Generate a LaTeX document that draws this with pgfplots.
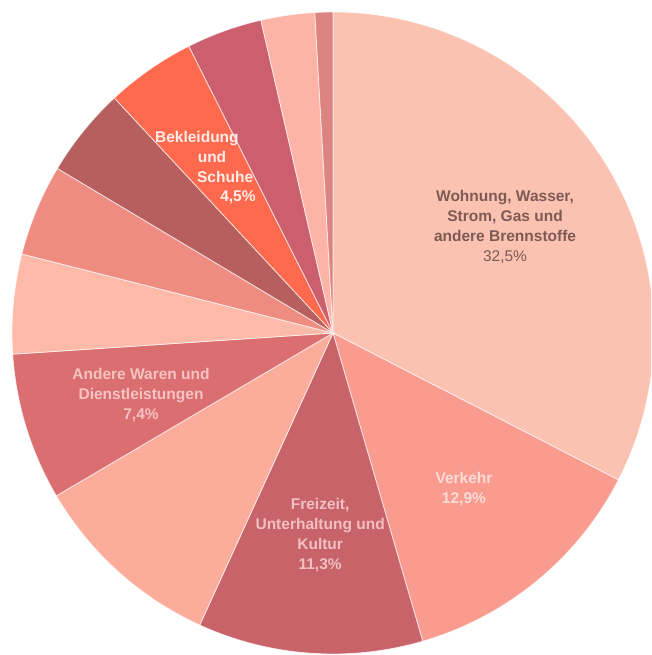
\documentclass[border=0pt]{standalone}
\usepackage{pgfplots}
\pgfplotsset{compat=1.18}
\usepackage{fontspec}
\setmainfont{Liberation Sans}
\definecolor{s1}{HTML}{FBC2B1}
\definecolor{s2}{HTML}{F99B8F}
\definecolor{s3}{HTML}{C8636A}
\definecolor{s4}{HTML}{FCAC9A}
\definecolor{s5}{HTML}{DA6E70}
\definecolor{s6}{HTML}{FDBAA8}
\definecolor{s7}{HTML}{EE8C82}
\definecolor{s8}{HTML}{B75F5E}
\definecolor{s9}{HTML}{FF6A4E}
\definecolor{s10}{HTML}{CC5F6E}
\definecolor{s11}{HTML}{FDB3A5}
\definecolor{s12}{HTML}{DC8482}
\definecolor{tdark}{HTML}{7E5A55}
\definecolor{tverk}{HTML}{FCDCD6}
\definecolor{tfrei}{HTML}{F2C0C3}
\definecolor{tand}{HTML}{F6C3C3}
\definecolor{tbek}{HTML}{FFEDEA}
\begin{document}
\begin{tikzpicture}
\clip (-333pt,-322pt) rectangle (318pt,333pt);
\begin{axis}[hide axis, scale only axis, width=642pt, height=642pt,
  xmin=-1, xmax=1, ymin=-1, ymax=1, anchor=center, at={(0pt,0pt)}, clip=false]
\gdef\cum{0}
\foreach \v/\col in {32.5/s1, 12.9/s2, 11.3/s3, 9.7/s4, 7.4/s5, 5.0/s6, 4.6/s7, 4.5/s8, 4.5/s9, 3.8/s10, 2.7/s11, 0.9/s12} {
  \pgfmathsetmacro\a{90-\cum*3.6072}
  \pgfmathsetmacro\b{90-(\cum+\v)*3.6072}
  \edef\tmp{\noexpand\fill[\col, draw=white, draw opacity=0.7, line width=0.8pt] (axis cs:0,0) -- (axis cs:{cos(\a)},{sin(\a)}) arc[start angle=\a, end angle=\b, radius=1] -- cycle;}
  \tmp
  \pgfmathsetmacro\n{\cum+\v}
  \xdef\cum{\n}
}
\node[align=center, text=tdark, font=\fontsize{15.5}{20}\selectfont] at (axis cs:0.536,0.33)
  {\textbf{Wohnung, Wasser,}\\\textbf{Strom, Gas und}\\\textbf{andere Brennstoffe}\\32,5\%};
\node[align=center, text=tverk, font=\fontsize{15.5}{20}\selectfont\bfseries] at (axis cs:0.408,-0.486)
  {Verkehr\\12,9\%};
\node[align=center, text=tfrei, font=\fontsize{15.5}{20}\selectfont\bfseries] at (axis cs:-0.04,-0.629)
  {Freizeit,\\Unterhaltung und\\Kultur\\11,3\%};
\node[align=center, text=tand, font=\fontsize{15.5}{20}\selectfont\bfseries] at (axis cs:-0.598,-0.193)
  {Andere Waren und\\Dienstleistungen\\7,4\%};
\node[anchor=base, text=tbek, font=\fontsize{15.5}{20}\selectfont\bfseries] at (axis cs:-0.424,0.592) {Bekleidung};
\node[anchor=base, text=tbek, font=\fontsize{15.5}{20}\selectfont\bfseries] at (axis cs:-0.377,0.530) {und};
\node[anchor=base, text=tbek, font=\fontsize{15.5}{20}\selectfont\bfseries] at (axis cs:-0.336,0.470) {Schuhe};
\node[anchor=base, text=tbek, font=\fontsize{15.5}{20}\selectfont\bfseries] at (axis cs:-0.296,0.411) {4,5\%};
\end{axis}
\end{tikzpicture}
\end{document}
